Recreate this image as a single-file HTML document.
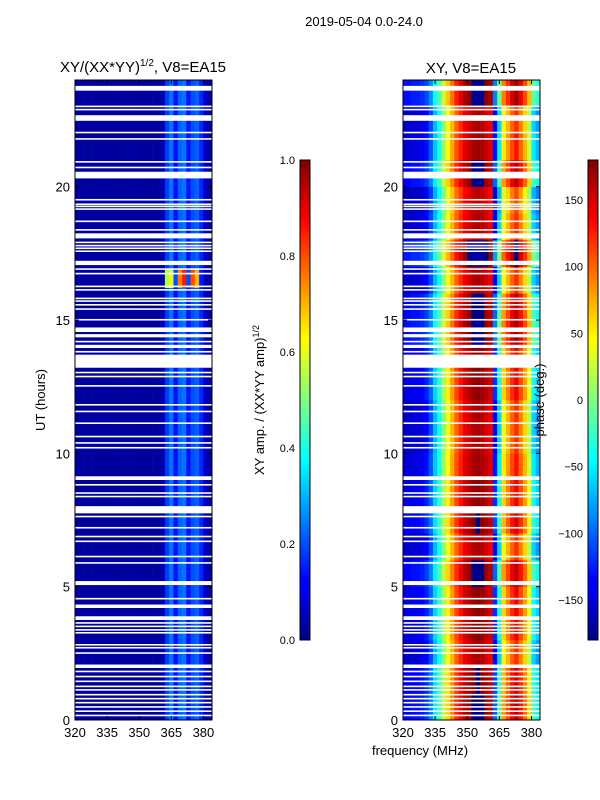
<!DOCTYPE html>
<html><head><meta charset="utf-8"><style>
body{margin:0;background:#fff;}
svg{display:block;font-family:"Liberation Sans",sans-serif;}
</style></head><body>
<svg id="fig" width="600" height="800" viewBox="0 0 600 800">
<defs>
<linearGradient id="jet" x1="0" y1="1" x2="0" y2="0">
<stop offset="0" stop-color="#00007f"/><stop offset="0.11" stop-color="#0000ff"/><stop offset="0.125" stop-color="#0000ff"/>
<stop offset="0.34" stop-color="#00ddff"/><stop offset="0.375" stop-color="#00ffff"/><stop offset="0.5" stop-color="#7fff7f"/>
<stop offset="0.625" stop-color="#ffff00"/><stop offset="0.66" stop-color="#ffdd00"/><stop offset="0.875" stop-color="#ff0000"/><stop offset="1" stop-color="#7f0000"/>
</linearGradient>
</defs>
<text x="364" y="26" font-size="13" text-anchor="middle">2019-05-04 0.0-24.0</text>
<text x="143" y="72" font-size="15" text-anchor="middle">XY/(XX*YY)<tspan font-size="10" dy="-6">1/2</tspan><tspan dy="6">, V8=EA15</tspan></text>
<text x="471" y="73" font-size="15" text-anchor="middle">XY, V8=EA15</text>
<g id="left"></g>
<g id="right"></g>
<g id="axes"></g>
<text transform="translate(45,400) rotate(-90)" font-size="13" text-anchor="middle">UT (hours)</text>
<text transform="translate(264,400) rotate(-90)" font-size="13" text-anchor="middle">XY amp. / (XX*YY amp)<tspan font-size="9" dy="-5">1/2</tspan></text>
<text transform="translate(544,400) rotate(-90)" font-size="13" text-anchor="middle">phase (deg.)</text>
<text x="420" y="755" font-size="13" text-anchor="middle">frequency (MHz)</text>
<rect x="300" y="160" width="10" height="480" fill="url(#jet)" stroke="#000" stroke-width="1"/>
<rect x="588" y="160" width="10" height="480" fill="url(#jet)" stroke="#000" stroke-width="1"/>
</svg>
<script>
// ---- data ----
const freqEdges = [320,322,324,326,328,330,332,334,336,338,340,342,344,346,348,350,352,354,356,358,360,362,364,366,368,370,372,374,376,378,380,382,384];
const ampCols = [0.03,0.03,0.03,0.03,0.03,0.03,0.03,0.03,0.03,0.03,0.03,0.03,0.03,0.03,0.03,0.03,0.03,0.03,0.03,0.03,0.04,0.18,0.24,0.14,0.22,0.24,0.14,0.2,0.22,0.16,0.06,0.04];
const burstCols = [0.03,0.03,0.03,0.03,0.03,0.03,0.03,0.03,0.03,0.03,0.03,0.03,0.03,0.03,0.03,0.03,0.03,0.03,0.03,0.03,0.05,0.55,0.6,0.2,0.75,0.85,0.2,0.8,0.7,0.15,0.05,0.04];
const burstStart = 16.2, burstEnd = 16.9;
const phaseCols = [-145,-145,-140,-140,-135,-125,-100,-60,-30,10,50,80,110,130,150,160,170,175,170,160,150,-120,-40,60,90,120,140,110,80,40,-40,-60];
const hourShift = [10,5,-10,0,0,10,-10,5,0,-5,-10,-10,0,0,15,10,-10,20,-10,-15,10,-5,-10,15];
const gapStart = [23.6,22.98,22.86,22.47,22.0,21.76,20.9,20.69,20.31,19.48,19.31,19.23,19.13,18.67,18.35,18.06,17.88,17.76,17.66,17.55,17.06,16.88,16.71,16.23,16.1,15.78,15.68,15.54,15.38,14.98,14.55,14.35,14.16,13.95,13.78,13.21,13.0,12.85,12.5,11.79,11.54,11.1,10.6,10.36,10.18,9.0,8.79,8.48,8.35,7.75,7.6,7.18,6.85,6.67,6.1,5.86,5.06,4.52,4.2,3.75,3.61,3.48,3.35,3.24,2.79,2.68,2.48,1.95,1.79,1.6,1.42,1.23,1.1,0.92,0.77,0.62,0.46,0.3,0.14];
const gapEnd   = [23.78,23.04,22.92,22.68,22.06,21.82,20.96,20.75,20.56,19.54,19.37,19.29,19.19,18.73,18.41,18.25,17.94,17.82,17.72,17.61,17.22,16.94,16.77,16.29,16.16,15.84,15.74,15.6,15.44,15.04,14.72,14.47,14.22,14.07,13.84,13.7,13.06,12.91,12.56,11.85,11.6,11.16,10.66,10.42,10.24,9.14,8.85,8.54,8.41,8.02,7.66,7.24,6.91,6.73,6.16,5.92,5.21,4.58,4.33,3.89,3.67,3.54,3.41,3.3,2.85,2.74,2.54,2.08,1.85,1.66,1.48,1.29,1.16,0.98,0.83,0.68,0.52,0.36,0.2];
const yTicks = [0,5,10,15,20];
const xTicks = [320,335,350,365,380];
const ampTicks = [0.0,0.2,0.4,0.6,0.8,1.0];
const phaseTicks = [-150,-100,-50,0,50,100,150];
// ---- scales ----
const NS='http://www.w3.org/2000/svg';
const yTop=80,yBot=720;
const yS=h=>yBot-(h/24)*(yBot-yTop);
const xL=f=>75+(f-320)*(212-75)/(384-320);
const xR=f=>403+(f-320)*(540-403)/(384-320);
function jet(v){v=Math.max(0,Math.min(1,v));
 const r=Math.min(4*v-1.5,-4*v+4.5),g=Math.min(4*v-0.5,-4*v+3.5),b=Math.min(4*v+0.5,-4*v+2.5);
 const c=x=>Math.round(255*Math.max(0,Math.min(1,x)));return `rgb(${c(r)},${c(g)},${c(b)})`;}
function mk(tag,attrs,parent){const e=document.createElementNS(NS,tag);for(const k in attrs)e.setAttribute(k,attrs[k]);parent.appendChild(e);return e;}
const L=document.getElementById('left'),R=document.getElementById('right'),A=document.getElementById('axes');
for(let h=0;h<24;h++){
 for(let c=0;c<ampCols.length;c++){
  const f0=freqEdges[c],f1=freqEdges[c+1];
  const a=mk('rect',{x:xL(f0),y:yS(h+1),width:xL(f1)-xL(f0)+0.3,height:yS(h)-yS(h+1)+0.3,fill:jet(ampCols[c])},L);
  
  
  let p=phaseCols[c]+(c<21?hourShift[h]:hourShift[h]*2);
  p=((p+180)%360+360)%360-180;
  const r=mk('rect',{x:xR(f0),y:yS(h+1),width:xR(f1)-xR(f0)+0.3,height:yS(h)-yS(h+1)+0.3,fill:jet((p+180)/360)},R);
  
  
 }
}
for(let c=0;c<burstCols.length;c++){
 const f0=freqEdges[c],f1=freqEdges[c+1];
 const b=mk('rect',{x:xL(f0),y:yS(burstEnd),width:xL(f1)-xL(f0)+0.3,height:yS(burstStart)-yS(burstEnd),fill:jet(burstCols[c])},L);
 
 
}
for(let i=0;i<gapStart.length;i++){
 const y=yS(gapEnd[i]),hh=yS(gapStart[i])-yS(gapEnd[i]);
 const g1=mk('rect',{x:75,y:y,width:137,height:hh,fill:'#fff'},L);
 
 
 const g2=mk('rect',{x:403,y:y,width:137,height:hh,fill:'#fff'},R);
 
 
}
[[75,212,xL],[403,540,xR]].forEach(([x0,x1,xs],pi)=>{
 const fr=mk('rect',{x:x0,y:yTop,width:x1-x0,height:yBot-yTop,fill:'none',stroke:'#000','stroke-width':1},A);
 
 
 yTicks.forEach(t=>{const y=yS(t);
  mk('line',{x1:x0,x2:x0+4,y1:y,y2:y,stroke:'#000'},A);mk('line',{x1:x1,x2:x1-4,y1:y,y2:y,stroke:'#000'},A);
  const tx=mk('text',{x:x0-5,y:y+5,'font-size':13,'text-anchor':'end'},A);tx.textContent=t;
  
  });
 xTicks.forEach(t=>{const x=xs(t);
  mk('line',{x1:x,x2:x,y1:yBot,y2:yBot-4,stroke:'#000'},A);mk('line',{x1:x,x2:x,y1:yTop,y2:yTop+4,stroke:'#000'},A);
  const tx=mk('text',{x:x,y:yBot+17,'font-size':13,'text-anchor':'middle'},A);tx.textContent=t;
  
  });
});
ampTicks.forEach(t=>{const y=640-t*480;
 mk('line',{x1:300,x2:310,y1:y,y2:y,stroke:'#000'},A);
 const tx=mk('text',{x:295,y:y+4,'font-size':11,'text-anchor':'end'},A);tx.textContent=t.toFixed(1);
 
 });
phaseTicks.forEach(t=>{const y=640-(t+180)/360*480;
 mk('line',{x1:588,x2:598,y1:y,y2:y,stroke:'#000'},A);
 const tx=mk('text',{x:583,y:y+4,'font-size':11,'text-anchor':'end'},A);tx.textContent=(t<0?'\u2212'+(-t):t);
 
 });
</script>
</body></html>
